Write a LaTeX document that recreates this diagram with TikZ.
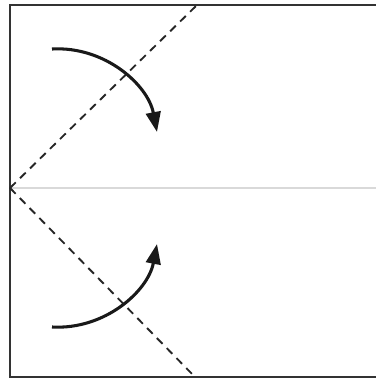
\documentclass[tikz,border=0pt]{standalone}
\usetikzlibrary{arrows.meta}
\begin{document}
\begin{tikzpicture}[x=0.75pt,y=-0.75pt,
  frame/.style={draw=black!80,line width=1.6pt},
  crease/.style={draw=black!15,line width=1.5pt},
  foldline/.style={draw=black!85,line width=1.4pt,dash pattern=on 6pt off 4.5pt},
  foldarrow/.style={draw=black!90,line width=2.3pt,-{Triangle[length=15pt,width=11pt]}}]
\useasboundingbox (0,0) rectangle (375,381);
\fill[white] (0,0) rectangle (375,381);
\coordinate (tl) at (10,5);
\coordinate (bl) at (10,377);
\coordinate (tr) at (376,5);
\coordinate (br) at (376,377);
\coordinate (ml) at (10,188);
\coordinate (mr) at (376,188);
\coordinate (dt) at (197,5);
\coordinate (db) at (195,377);
\draw[crease] (ml) -- (mr);
\draw[frame] (tr) -- (tl) -- (bl) -- (br);
\draw[foldline] (ml) -- (dt);
\draw[foldline] (ml) -- (db);
\coordinate (a1s) at (52,49);
\coordinate (a1e) at (157,132);
\coordinate (a2s) at (52,327);
\coordinate (a2e) at (157,244);
\draw[foldarrow] (a1s) .. controls (105,46) and (148,85) .. (a1e);
\draw[foldarrow] (a2s) .. controls (105,330) and (148,291) .. (a2e);
\end{tikzpicture}
\end{document}
